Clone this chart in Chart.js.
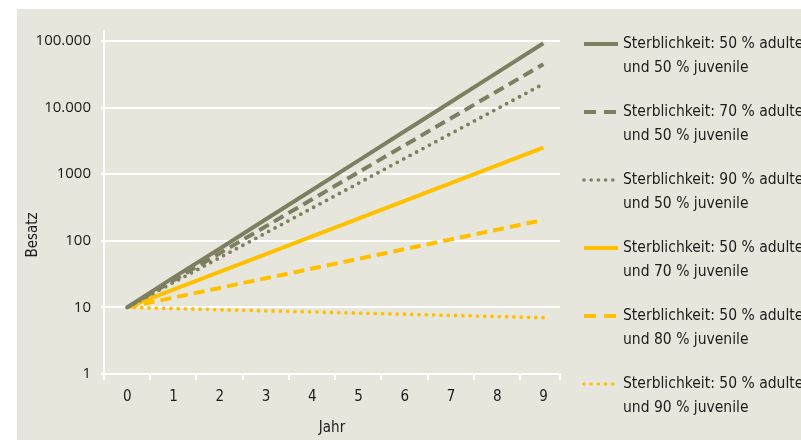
<!DOCTYPE html>
<html>
<head>
<meta charset="utf-8">
<script src="https://cdn.jsdelivr.net/npm/chart.js@4/dist/chart.umd.min.js"></script>
<style>
  html, body { margin: 0; padding: 0; width: 801px; height: 440px; overflow: hidden; background: #ffffff; }
  #panel { position: absolute; left: 17px; top: 9px; width: 784px; height: 431px; background: #e7e6dc; }
  #wrap { position: absolute; left: 0; top: 0; width: 801px; height: 440px; }
  #legend { position: absolute; left: 0; top: 0; width: 801px; height: 440px; overflow: hidden; pointer-events: none; }
  .item { position: absolute; left: 582px; white-space: nowrap; font-family: "DejaVu Sans Condensed", sans-serif; font-size: 15.5px; color: #1c1c1c; line-height: 24px; }
  .item svg { position: absolute; left: 0; top: 5px; }
  .item .txt { position: absolute; left: 41px; top: -5px; }
</style>
</head>
<body>
<div id="panel"></div>
<div id="wrap"><canvas id="chart" width="801" height="440"></canvas></div>
<div id="legend"></div>
<script>
// Population (Besatz) over ten years for six mortality scenarios
const years = [0, 1, 2, 3, 4, 5, 6, 7, 8, 9];

const seriesLabels = [
  ['Sterblichkeit: 50 % adulte', 'und 50 % juvenile'],
  ['Sterblichkeit: 70 % adulte', 'und 50 % juvenile'],
  ['Sterblichkeit: 90 % adulte', 'und 50 % juvenile'],
  ['Sterblichkeit: 50 % adulte', 'und 70 % juvenile'],
  ['Sterblichkeit: 50 % adulte', 'und 80 % juvenile'],
  ['Sterblichkeit: 50 % adulte', 'und 90 % juvenile']
];

const adult50juv50 = [10, 28, 76, 210, 579, 1596, 4401, 12140, 33480, 92360];
const adult70juv50 = [10, 25.4, 64.7, 165, 419, 1067, 2714, 6906, 17570, 44720];
const adult90juv50 = [10, 23.6, 55.7, 131, 310, 730, 1723, 4064, 9585, 22610];
const adult50juv70 = [10, 18.5, 34.1, 63, 116, 215, 397, 733, 1353, 2498];
const adult50juv80 = [10, 14.0, 19.6, 27.4, 38.3, 53.6, 75.0, 105, 147, 205];
const adult50juv90 = [10, 9.61, 9.24, 8.88, 8.54, 8.20, 7.89, 7.58, 7.29, 7.00];

const yTickValues = [1, 10, 100, 1000, 10000, 100000];
const yTickLabels = ['1', '10', '100', '1000', '10.000', '100.000'];

const OLIVE = '#7e7f61';
const GOLD = '#ffc000';

const seriesValues = [adult50juv50, adult70juv50, adult90juv50, adult50juv70, adult50juv80, adult50juv90];
const seriesColors = [OLIVE, OLIVE, OLIVE, GOLD, GOLD, GOLD];
const seriesStyles = ['solid', 'dashed', 'dotted', 'solid', 'dashed', 'dotted'];

const dashFor = s => s === 'dashed' ? [11, 6] : s === 'dotted' ? [0, 7.3] : [];

const datasets = seriesValues.map((vals, i) => ({
  label: seriesLabels[i].join(' '),
  data: years.map((yr, k) => ({ x: yr, y: vals[k] })),
  borderColor: seriesColors[i],
  backgroundColor: seriesColors[i],
  borderWidth: seriesStyles[i] === 'dotted' ? 3.8 : 4,
  borderDash: dashFor(seriesStyles[i]),
  borderCapStyle: seriesStyles[i] === 'dotted' ? 'round' : 'butt',
  pointRadius: 0,
  tension: 0,
  fill: false
}));

const labelFont = { family: '"DejaVu Sans Condensed", sans-serif', size: 15 };

// vertical axis title, placed beside the y axis
const yTitlePlugin = {
  id: 'yTitle',
  afterDraw(chart) {
    const ctx = chart.ctx;
    ctx.save();
    ctx.translate(33, 235);
    ctx.rotate(-Math.PI / 2);
    ctx.font = '15px "DejaVu Sans Condensed", sans-serif';
    ctx.fillStyle = '#1c1c1c';
    ctx.textAlign = 'center';
    ctx.textBaseline = 'middle';
    ctx.fillText('Besatz', 0, 0);
    ctx.restore();
  }
};

new Chart(document.getElementById('chart'), {
  type: 'line',
  data: { datasets },
  options: {
    responsive: false,
    animation: false,
    layout: { padding: { left: 0, top: 31, right: 241, bottom: 0 } },
    plugins: { legend: { display: false }, tooltip: { enabled: false } },
    scales: {
      x: {
        type: 'linear',
        min: -0.5,
        max: 9.36,
        afterBuildTicks(scale) {
          const t = years.map(v => ({ value: v - 0.5 }));
          t.push({ value: 9.36 });
          scale.ticks = t;
        },
        afterFit(scale) { scale.height = 66; },
        grid: { drawOnChartArea: false, drawTicks: true, tickLength: 6, color: '#ffffff', lineWidth: 2 },
        border: { display: true, color: '#ffffff', width: 2 },
        ticks: {
          autoSkip: false,
          maxRotation: 0,
          padding: 8,
          labelOffset: 23.2,
          color: '#1c1c1c',
          font: labelFont,
          callback: (v, i) => (i < years.length ? String(years[i]) : '')
        },
        title: { display: true, text: 'Jahr', color: '#1c1c1c', font: labelFont, padding: { top: 0, bottom: 3 } }
      },
      y: {
        type: 'logarithmic',
        min: 1,
        max: 141000,
        afterBuildTicks(scale) { scale.ticks = yTickValues.map(v => ({ value: v })); },
        afterFit(scale) { scale.width = 104; },
        grid: { color: '#ffffff', lineWidth: 2, tickLength: 3 },
        border: { display: true, color: '#ffffff', width: 2 },
        ticks: {
          padding: 10,
          color: '#1a1a1a',
          font: { family: '"Open Sans", sans-serif', size: 15 },
          callback: v => {
            const i = yTickValues.indexOf(v);
            return i >= 0 ? yTickLabels[i] : '';
          }
        }
      }
    }
  },
  plugins: [yTitlePlugin]
});

// legend built from the same series definitions
const legend = document.getElementById('legend');
const legendTops = [43, 111, 179, 247, 315, 383];
seriesLabels.forEach((lines, i) => {
  const item = document.createElement('div');
  item.className = 'item';
  item.style.top = (legendTops[i] - 7) + 'px';
  const style = seriesStyles[i];
  const dash = style === 'dashed' ? ' stroke-dasharray="12 8"' : style === 'dotted' ? ' stroke-dasharray="0 7.2" stroke-linecap="round"' : '';
  item.innerHTML =
    '<svg width="40" height="6"><line x1="2" y1="3" x2="36" y2="3" stroke="' + seriesColors[i] +
    '" stroke-width="' + (style === 'dotted' ? 3.6 : 4) + '"' + dash + '/></svg>' +
    '<div class="txt">' + lines.join('<br>') + '</div>';
  legend.appendChild(item);
});
</script>
</body>
</html>
